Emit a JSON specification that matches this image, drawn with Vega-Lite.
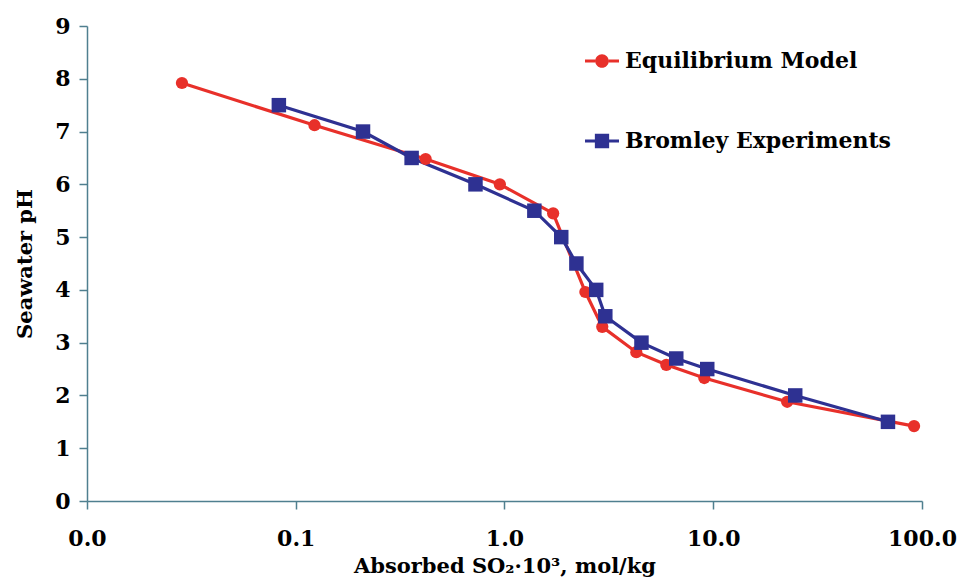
{
  "$schema": "https://vega.github.io/schema/vega-lite/v6.json",
  "width": 835,
  "height": 475,
  "autosize": {"type": "none"},
  "padding": {"left": 87, "top": 26, "right": 40, "bottom": 79},
  "background": "white",
  "config": {
    "view": {"stroke": null},
    "font": "DejaVu Serif",
    "axis": {
      "grid": false,
      "labelFlush": false,
      "domainColor": "#4f7f8f",
      "domainWidth": 1.5,
      "tickColor": "#4f7f8f",
      "tickWidth": 1.5,
      "tickSize": 8,
      "labelFont": "DejaVu Serif",
      "labelFontWeight": "bold",
      "labelFontSize": 22,
      "labelColor": "#000000",
      "titleFont": "DejaVu Serif",
      "titleFontWeight": "bold",
      "titleFontSize": 21,
      "titleColor": "#000000"
    },
    "legend": {
      "title": null,
      "orient": "none",
      "legendX": 498,
      "legendY": 18,
      "padding": 0,
      "symbolSize": 1156,
      "symbolOpacity": 1,
      "symbolStrokeWidth": 0,
      "labelFont": "DejaVu Serif",
      "labelFontWeight": "bold",
      "labelFontSize": 22,
      "labelColor": "#000000",
      "labelLimit": 0,
      "labelOffset": 6,
      "rowPadding": 52
    }
  },
  "data": {
    "values": [
      {"series": "Equilibrium Model", "so2": 0.0285, "ph": 7.92},
      {"series": "Equilibrium Model", "so2": 0.123, "ph": 7.12},
      {"series": "Equilibrium Model", "so2": 0.419, "ph": 6.48},
      {"series": "Equilibrium Model", "so2": 0.95, "ph": 6.0},
      {"series": "Equilibrium Model", "so2": 1.71, "ph": 5.45},
      {"series": "Equilibrium Model", "so2": 2.44, "ph": 3.96},
      {"series": "Equilibrium Model", "so2": 2.94, "ph": 3.3},
      {"series": "Equilibrium Model", "so2": 4.28, "ph": 2.82},
      {"series": "Equilibrium Model", "so2": 5.96, "ph": 2.58},
      {"series": "Equilibrium Model", "so2": 9.06, "ph": 2.33},
      {"series": "Equilibrium Model", "so2": 22.6, "ph": 1.88},
      {"series": "Equilibrium Model", "so2": 91.6, "ph": 1.42},
      {"series": "Bromley Experiments", "so2": 0.083, "ph": 7.5},
      {"series": "Bromley Experiments", "so2": 0.21, "ph": 7.0},
      {"series": "Bromley Experiments", "so2": 0.359, "ph": 6.5},
      {"series": "Bromley Experiments", "so2": 0.726, "ph": 6.0},
      {"series": "Bromley Experiments", "so2": 1.39, "ph": 5.5},
      {"series": "Bromley Experiments", "so2": 1.87, "ph": 5.0},
      {"series": "Bromley Experiments", "so2": 2.21, "ph": 4.5},
      {"series": "Bromley Experiments", "so2": 2.75, "ph": 4.0},
      {"series": "Bromley Experiments", "so2": 3.04, "ph": 3.5},
      {"series": "Bromley Experiments", "so2": 4.53, "ph": 3.0},
      {"series": "Bromley Experiments", "so2": 6.65, "ph": 2.7},
      {"series": "Bromley Experiments", "so2": 9.36, "ph": 2.5},
      {"series": "Bromley Experiments", "so2": 24.7, "ph": 2.0},
      {"series": "Bromley Experiments", "so2": 68.7, "ph": 1.5}
    ]
  },
  "encoding": {
    "x": {
      "field": "so2",
      "type": "quantitative",
      "scale": {"type": "log", "domain": [0.01, 100], "nice": false},
      "axis": {
        "title": "Absorbed SO₂·10³, mol/kg",
        "values": [0.01, 0.1, 1, 10, 100],
        "format": ".1f",
        "labelPadding": 19,
        "titlePadding": 6
      }
    },
    "y": {
      "field": "ph",
      "type": "quantitative",
      "scale": {"domain": [0, 9], "nice": false, "zero": true},
      "axis": {
        "title": "Seawater pH",
        "values": [0, 1, 2, 3, 4, 5, 6, 7, 8, 9],
        "labelPadding": 9,
        "titlePadding": 19
      }
    },
    "color": {
      "field": "series",
      "type": "nominal",
      "scale": {"domain": ["Equilibrium Model", "Bromley Experiments"], "range": ["#e8302a", "#2e3192"]}
    }
  },
  "layer": [
    {
      "mark": {"type": "line", "strokeWidth": 3.2},
      "encoding": {"order": {"field": "so2", "type": "quantitative"}}
    },
    {
      "transform": [{"filter": "datum.series === 'Equilibrium Model'"}],
      "mark": {"type": "point", "shape": "circle", "filled": true, "opacity": 1, "size": 150}
    },
    {
      "transform": [{"filter": "datum.series === 'Bromley Experiments'"}],
      "mark": {"type": "point", "shape": "square", "filled": true, "opacity": 1, "size": 210}
    },
    {
      "mark": {"type": "point", "filled": true, "opacity": 0},
      "encoding": {
        "shape": {
          "field": "series",
          "type": "nominal",
          "scale": {
            "domain": ["Equilibrium Model", "Bromley Experiments"],
            "range": [
              "M-1,-0.09H-0.4V0.09H-1Z M0.4,-0.09H1V0.09H0.4Z M0.4,0A0.4,0.4,0,1,1,-0.4,0A0.4,0.4,0,1,1,0.4,0Z",
              "M-1,-0.09H-0.42V0.09H-1Z M0.42,-0.09H1V0.09H0.42Z M-0.42,-0.42H0.42V0.42H-0.42Z"
            ]
          }
        }
      }
    }
  ]
}
